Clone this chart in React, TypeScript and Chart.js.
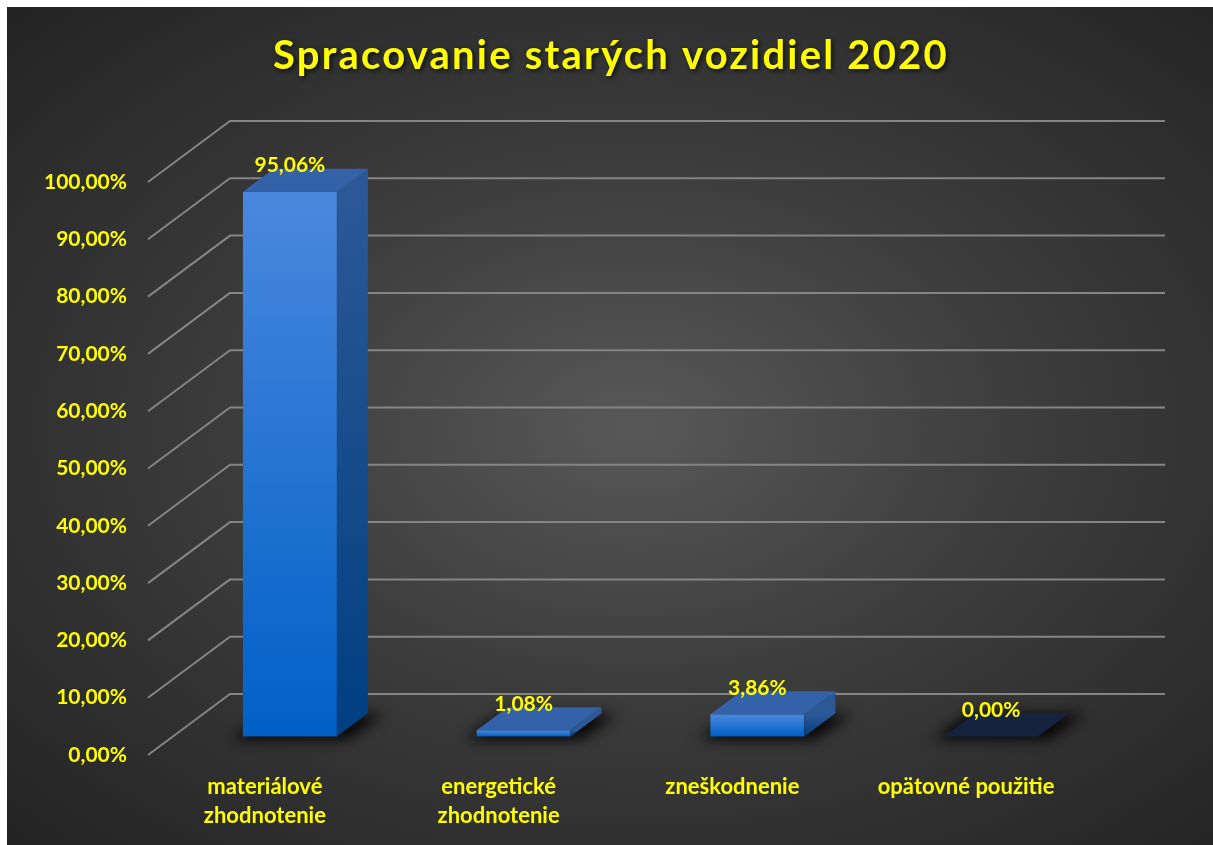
import { useEffect, useRef } from 'react';
import { Chart, registerables } from 'chart.js';

Chart.register(...registerables);

const TITLE = 'Spracovanie starých vozidiel 2020';
const categories: string[][] = [
  ['materiálové', 'zhodnotenie'],
  ['energetické', 'zhodnotenie'],
  ['zneškodnenie'],
  ['opätovné použitie'],
];
const shares: number[] = [0.9506, 0.0108, 0.0386, 0.0];
const yMin = 0;
const yMax = 1;
const yStep = 0.1;

const FONT = 'Lato, "Open Sans", sans-serif';
const YELLOW = '#FFFF00';

const fmtPct = (v: number) => (v * 100).toFixed(2).replace('.', ',') + '%';

// 3D projection (floor depth), styling only
const DX = 82;
const DY = -61;
const BF = 0.305; // bar front plane (fraction of depth)
const BB = 0.683; // bar back plane

const threeD = {
  id: 'threeD',
  beforeDatasetsDraw(chart: any) {
    const { ctx, chartArea: a, scales } = chart;
    const y = scales.y;
    ctx.save();
    ctx.strokeStyle = '#858585';
    ctx.lineWidth = 2;
    ctx.lineJoin = 'round';
    y.ticks.forEach((t: any) => {
      const py = y.getPixelForValue(t.value);
      ctx.beginPath();
      ctx.moveTo(a.left, py);
      ctx.lineTo(a.left + DX, py + DY);
      ctx.lineTo(a.right + DX, py + DY);
      ctx.stroke();
    });
    ctx.restore();
  },
  afterDatasetsDraw(chart: any) {
    const { ctx } = chart;
    const meta = chart.getDatasetMeta(0);
    const values = chart.data.datasets[0].data as number[];
    const fx = DX * BF, fy = DY * BF;
    const dx = DX * (BB - BF), dy = DY * (BB - BF);
    meta.data.forEach((el: any) => {
      const { x, base, width } = el.getProps(['x', 'base', 'width'], true);
      const xl = x - width / 2 + fx, xr = x + width / 2 + fx;
      const yb = base + fy;
      ctx.save();
      ctx.filter = 'blur(7px)';
      ctx.fillStyle = 'rgba(0,0,0,0.9)';
      ctx.beginPath();
      ctx.moveTo(xl - 12, yb + 3);
      ctx.lineTo(xr + 10, yb + 3);
      ctx.lineTo(xr + dx + 16, yb + dy + 1);
      ctx.lineTo(xl + dx - 6, yb + dy + 1);
      ctx.closePath();
      ctx.fill();
      ctx.restore();
    });
    meta.data.forEach((el: any, i: number) => {
      const { x, y, base, width } = el.getProps(['x', 'y', 'base', 'width'], true);
      const xl = x - width / 2 + fx, xr = x + width / 2 + fx;
      const yt = y + fy, yb = base + fy;
      const h = yb - yt;
      ctx.save();
      if (h > 0.5) {
        const gf = ctx.createLinearGradient(0, yt, 0, yb);
        gf.addColorStop(0, '#4A88DE');
        gf.addColorStop(1, '#0060C6');
        ctx.fillStyle = gf;
        ctx.fillRect(xl, yt, xr - xl, h);
        const gs = ctx.createLinearGradient(0, yt, 0, yb);
        gs.addColorStop(0, '#2C5896');
        gs.addColorStop(1, '#003F80');
        ctx.fillStyle = gs;
        ctx.beginPath();
        ctx.moveTo(xr, yt);
        ctx.lineTo(xr + dx, yt + dy);
        ctx.lineTo(xr + dx, yb + dy);
        ctx.lineTo(xr, yb);
        ctx.closePath();
        ctx.fill();
      }
      ctx.fillStyle = values[i] === 0 ? '#15233E' : '#3462A8';
      ctx.beginPath();
      ctx.moveTo(xl, yt);
      ctx.lineTo(xl + dx, yt + dy);
      ctx.lineTo(xr + dx, yt + dy);
      ctx.lineTo(xr, yt);
      ctx.closePath();
      ctx.fill();
      ctx.restore();
    });
    ctx.save();
    ctx.font = `bold 21px ${FONT}`;
    ctx.fillStyle = YELLOW;
    ctx.textAlign = 'center';
    ctx.textBaseline = 'middle';
    meta.data.forEach((el: any, i: number) => {
      const { x, y } = el.getProps(['x', 'y'], true);
      ctx.fillText(fmtPct(values[i]), x + fx, y + fy - 26);
    });
    ctx.restore();
  },
  afterDraw(chart: any) {
    const { ctx } = chart;
    ctx.save();
    ctx.font = `bold 40px ${FONT}`;
    (ctx as any).letterSpacing = '2.2px';
    ctx.textAlign = 'center';
    ctx.textBaseline = 'middle';
    ctx.shadowColor = 'rgba(0,0,0,0.7)';
    ctx.shadowBlur = 4;
    ctx.shadowOffsetX = 2;
    ctx.shadowOffsetY = 2;
    ctx.fillStyle = YELLOW;
    ctx.fillText(TITLE, chart.width / 2 + 1, 49);
    ctx.restore();
  },
};

export default function App() {
  const ref = useRef<HTMLCanvasElement | null>(null);
  useEffect(() => {
    document.body.style.margin = '0';
    document.body.style.overflow = 'hidden';
    if (!ref.current) return;
    const chart = new Chart(ref.current, {
      type: 'bar',
      data: {
        labels: categories,
        datasets: [
          {
            data: shares,
            backgroundColor: 'rgba(0,0,0,0)',
            borderWidth: 0,
            barPercentage: 0.402,
            categoryPercentage: 1,
          },
        ],
      },
      options: {
        responsive: false,
        animation: false,
        layout: { padding: { top: 175, right: 130, left: 0, bottom: 0 } },
        plugins: {
          legend: { display: false },
          tooltip: { enabled: false },
          title: { display: false },
        },
        scales: {
          x: {
            grid: { display: false, drawTicks: false },
            border: { display: false },
            ticks: {
              color: YELLOW,
              font: { family: FONT, size: 22, weight: 'bold', lineHeight: 1.3 },
              padding: 18,
              maxRotation: 0,
              autoSkip: false,
            },
            afterFit: (s: any) => {
              s.height = 90;
            },
          },
          y: {
            min: yMin,
            max: yMax,
            grid: { display: false, drawTicks: false },
            border: { display: false },
            ticks: {
              stepSize: yStep,
              color: YELLOW,
              font: { family: FONT, size: 21, weight: 'bold' },
              padding: 21,
              callback: (v: any) => fmtPct(Number(v)),
            },
            afterFit: (s: any) => {
              s.width = 141;
            },
          },
        },
      },
      plugins: [threeD],
    });
    return () => chart.destroy();
  }, []);
  return (
    <div
      style={{
        position: 'fixed',
        left: 7,
        top: 7,
        right: 0,
        bottom: 0,
        overflow: 'hidden',
        background: 'radial-gradient(ellipse at 52% 50%, #585858 0%, #3c3c3c 45%, #232323 100%)',
      }}
    >
      <canvas ref={ref} width={1206} height={838} style={{ display: 'block' }} />
    </div>
  );
}
